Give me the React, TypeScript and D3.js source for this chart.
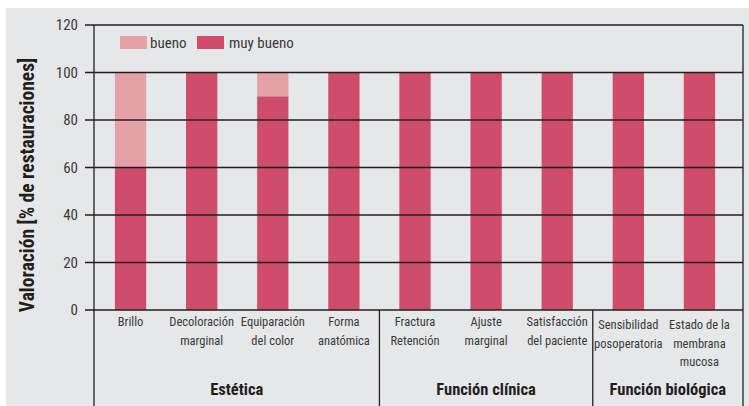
import * as d3 from "d3";
import React from "react";

const categories = [
  ["Brillo"],
  ["Decoloración", "marginal"],
  ["Equiparación", "del color"],
  ["Forma", "anatómica"],
  ["Fractura", "Retención"],
  ["Ajuste", "marginal"],
  ["Satisfacción", "del paciente"],
  ["Sensibilidad", "posoperatoria"],
  ["Estado de la", "membrana", "mucosa"],
];
const muyBueno = [60, 100, 90, 100, 100, 100, 100, 100, 100];
const bueno = [40, 0, 10, 0, 0, 0, 0, 0, 0];
const groups = ["Estética", "Función clínica", "Función biológica"];
const groupSizes = [4, 3, 2];
const yTicks = [0, 20, 40, 60, 80, 100, 120];

const W = 749;
const H = 406;
const FONT = "'Liberation Sans Narrow', 'Roboto Condensed', 'Noto Sans', sans-serif";
const C_MUY = "#CF4D6A";
const C_BUENO = "#E6A1A6";
const LINE = "#231F20";

const App = () => {
  const keys = categories.map((c) => c.join(" "));
  const x = d3.scaleBand().domain(keys).range([95, 735]);
  const y = d3.scaleLinear().domain([0, 120]).range([310, 25]);
  const barW = x.step() * 0.44;
  const axisX = 94;
  const rightX = 743;

  // group boundaries
  const bounds: number[] = [axisX];
  let acc = 0;
  groupSizes.forEach((n, i) => {
    acc += n;
    bounds.push(i === groupSizes.length - 1 ? rightX : (x(keys[acc - 1]) as number) + x.step());
  });

  return (
    <svg
      width={W}
      height={H}
      style={{ position: "absolute", left: 0, top: 0, fontFamily: FONT }}
    >
      <rect x={6} y={8} width={W - 6} height={H - 8} fill="#E6E7E8" />

      {/* bars */}
      {keys.map((k, i) => {
        const cx = (x(k) as number) + x.step() / 2;
        return (
          <g key={k}>
            <rect
              x={cx - barW / 2}
              y={y(muyBueno[i])}
              width={barW}
              height={y(0) - y(muyBueno[i])}
              fill={C_MUY}
            />
            {bueno[i] > 0 && (
              <rect
                x={cx - barW / 2}
                y={y(muyBueno[i] + bueno[i])}
                width={barW}
                height={y(muyBueno[i]) - y(muyBueno[i] + bueno[i])}
                fill={C_BUENO}
              />
            )}
          </g>
        );
      })}

      {/* gridlines + tick labels */}
      {yTicks.map((t) => (
        <g key={t}>
          <line x1={85} x2={rightX} y1={y(t)} y2={y(t)} stroke={LINE} strokeWidth={1.3} />
          <text x={78} y={y(t) + 5} textAnchor="end" fontSize={15} fill="#3a3a3a">
            {t}
          </text>
        </g>
      ))}

      {/* axis + borders */}
      <line x1={axisX} x2={axisX} y1={y(120)} y2={H} stroke={LINE} strokeWidth={1.3} />
      <line x1={rightX} x2={rightX} y1={y(120)} y2={H} stroke={LINE} strokeWidth={1.3} />
      {bounds.slice(1, -1).map((b) => (
        <line key={b} x1={b} x2={b} y1={y(0)} y2={H} stroke={LINE} strokeWidth={1.3} />
      ))}

      {/* category labels */}
      {keys.map((k, i) => {
        const cx = (x(k) as number) + x.step() / 2;
        const lines = categories[i];
        const base = i >= 7 ? 329 : 326;
        return (
          <text key={k} x={cx} textAnchor="middle" fontSize={12.5} fill="#3a3a3a">
            {lines.map((l, j) => (
              <tspan key={j} x={cx} y={base + j * 18.5}>
                {l}
              </tspan>
            ))}
          </text>
        );
      })}

      {/* group labels */}
      {groups.map((g, i) => (
        <text
          key={g}
          x={(bounds[i] + bounds[i + 1]) / 2}
          y={395}
          textAnchor="middle"
          fontSize={16.5}
          fontWeight="bold"
          fill="#231F20"
        >
          {g}
        </text>
      ))}

      {/* y title */}
      <text
        transform={`translate(34,${185}) rotate(-90)`}
        textAnchor="middle"
        fontSize={19.5}
        fontWeight="bold"
        fill="#231F20"
      >
        Valoración [% de restauraciones]
      </text>

      {/* legend */}
      <rect x={120} y={36} width={27} height={13} fill={C_BUENO} />
      <text x={150} y={48} fontSize={15} fill="#3a3a3a">
        bueno
      </text>
      <rect x={197} y={36} width={27} height={13} fill={C_MUY} />
      <text x={229} y={48} fontSize={15} fill="#3a3a3a">
        muy bueno
      </text>
    </svg>
  );
};

export default App;
